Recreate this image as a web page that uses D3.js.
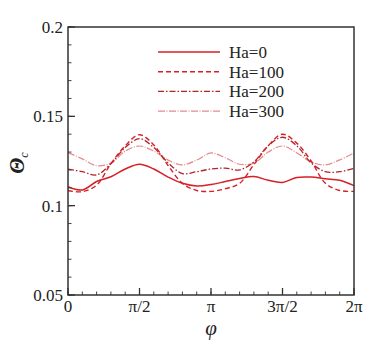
<!DOCTYPE html>
<html>
<head>
<script src="https://d3js.org/d3.v7.min.js"></script>
<style>
  body { margin: 0; background: #fff; }
  #chart svg, #chart svg text { font-family: "Liberation Serif", "DejaVu Serif", "Times New Roman", Times, serif; }
</style>
</head>
<body>
<div id="chart"></div>
<script>
// phi in units of pi
var phi = [0, 0.1, 0.2, 0.3, 0.4, 0.5, 0.6, 0.7, 0.8, 0.9, 1.0,
           1.1, 1.2, 1.3, 1.4, 1.5, 1.6, 1.7, 1.8, 1.9, 2.0];
var ha0   = [0.1106, 0.1088, 0.1135, 0.1162, 0.1205, 0.1232, 0.1205, 0.1160, 0.1125, 0.1110, 0.1118,
             0.1135, 0.1152, 0.1163, 0.1142, 0.1130, 0.1158, 0.1160, 0.1150, 0.1142, 0.1112];
var ha100 = [0.1085, 0.1078, 0.1115, 0.1235, 0.1335, 0.1397, 0.1340, 0.1225, 0.1125, 0.1085, 0.1080,
             0.1095, 0.1125, 0.1230, 0.1335, 0.1400, 0.1350, 0.1250, 0.1125, 0.1085, 0.1080];
var ha200 = [0.1204, 0.1190, 0.1172, 0.1235, 0.1325, 0.1375, 0.1325, 0.1240, 0.1180, 0.1190, 0.1205,
             0.1210, 0.1200, 0.1245, 0.1335, 0.1383, 0.1335, 0.1240, 0.1190, 0.1190, 0.1208];
var ha300 = [0.1297, 0.1262, 0.1224, 0.1238, 0.1305, 0.1334, 0.1305, 0.1255, 0.1228, 0.1255, 0.1295,
             0.1268, 0.1232, 0.1238, 0.1300, 0.1334, 0.1295, 0.1245, 0.1228, 0.1256, 0.1295];
var seriesNames = ["Ha=0", "Ha=100", "Ha=200", "Ha=300"];
var xTicks = [0, 0.5, 1, 1.5, 2];
var xTickLabels = ["0", "\u03c0/2", "\u03c0", "3\u03c0/2", "2\u03c0"];
var yTicks = [0.05, 0.1, 0.15, 0.2];
var yTickLabels = ["0.05", "0.1", "0.15", "0.2"];

var W = 390, H = 349;
var m = { left: 68, right: 36, top: 27, bottom: 54 };
var iw = W - m.left - m.right, ih = H - m.top - m.bottom;

var svg = d3.select("#chart").append("svg").attr("width", W).attr("height", H);
var g = svg.append("g").attr("transform", "translate(" + m.left + "," + m.top + ")");

var x = d3.scaleLinear().domain([0, 2]).range([0, iw]);
var y = d3.scaleLinear().domain([0.05, 0.2]).range([ih, 0]);

var styles = [
  { data: ha0,   color: "#d71f26", width: 1.5, dash: null },
  { data: ha100, color: "#d42027", width: 1.4, dash: "5,3" },
  { data: ha200, color: "#b3232a", width: 1.3, dash: "6,2,1.5,2" },
  { data: ha300, color: "#e38a8c", width: 1.2, dash: "7,1.5,1,1.5" }
];

var line = d3.line()
  .x(function(d, i) { return x(phi[i]); })
  .y(function(d) { return y(d); })
  .curve(d3.curveCatmullRom);

// curves (draw light ones first)
[3, 2, 1, 0].forEach(function(k) {
  var s = styles[k];
  g.append("path")
    .attr("d", line(s.data))
    .attr("fill", "none")
    .attr("stroke", s.color)
    .attr("stroke-width", s.width)
    .attr("stroke-dasharray", s.dash);
});

// minor ticks
var xMinor = d3.range(0, 2.0001, 0.1);
var yMinor = d3.range(0.05, 0.2001, 0.01);
g.selectAll(".xminor").data(xMinor).enter().append("line")
  .attr("x1", function(d) { return x(d); }).attr("x2", function(d) { return x(d); })
  .attr("y1", ih).attr("y2", ih - 3.5)
  .attr("stroke", "#444").attr("stroke-width", 1);
g.selectAll(".yminor").data(yMinor).enter().append("line")
  .attr("y1", function(d) { return y(d); }).attr("y2", function(d) { return y(d); })
  .attr("x1", 0).attr("x2", 3.5)
  .attr("stroke", "#444").attr("stroke-width", 1);

// major ticks
g.selectAll(".xmajor").data(xTicks).enter().append("line")
  .attr("x1", function(d) { return x(d); }).attr("x2", function(d) { return x(d); })
  .attr("y1", ih).attr("y2", ih - 7)
  .attr("stroke", "#333").attr("stroke-width", 1.3);
g.selectAll(".ymajor").data(yTicks).enter().append("line")
  .attr("y1", function(d) { return y(d); }).attr("y2", function(d) { return y(d); })
  .attr("x1", 0).attr("x2", 7)
  .attr("stroke", "#333").attr("stroke-width", 1.3);

// frame
g.append("rect").attr("width", iw).attr("height", ih)
  .attr("fill", "none").attr("stroke", "#333").attr("stroke-width", 1.5);

// tick labels
g.selectAll(".xlab").data(xTicks).enter().append("text")
  .attr("x", function(d) { return x(d); })
  .attr("y", ih + 17)
  .attr("text-anchor", "middle")
  .attr("font-size", 17).attr("fill", "#222")
  .text(function(d, i) { return xTickLabels[i]; });
g.selectAll(".ylab").data(yTicks).enter().append("text")
  .attr("x", -5)
  .attr("y", function(d) { return y(d); })
  .attr("dy", "0.35em")
  .attr("text-anchor", "end")
  .attr("font-size", 17).attr("fill", "#222")
  .text(function(d, i) { return yTickLabels[i]; });

// axis titles
svg.append("text")
  .attr("x", m.left + iw / 2).attr("y", H - 14)
  .attr("text-anchor", "middle")
  .attr("font-size", 21).attr("font-style", "italic").attr("fill", "#222")
  .text("\u03c6");
var yt = svg.append("text")
  .attr("transform", "translate(24,163) rotate(-90)")
  .attr("text-anchor", "middle").attr("fill", "#222")
  .attr("font-size", 21).attr("font-style", "italic").attr("font-weight", "bold");
yt.append("tspan").text("\u0398");
yt.append("tspan").attr("font-size", 12).attr("font-weight", "normal").attr("dy", 4).text("c");

// legend
var leg = svg.append("g").attr("transform", "translate(158,52)");
styles.forEach(function(s, i) {
  var row = leg.append("g").attr("transform", "translate(0," + (i * 19.7) + ")");
  row.append("line").attr("x1", 0).attr("x2", 62).attr("y1", 0).attr("y2", 0)
    .attr("stroke", s.color).attr("stroke-width", s.width).attr("stroke-dasharray", s.dash);
  row.append("text").attr("x", 71).attr("y", 0).attr("dy", "0.35em")
    .attr("font-size", 17).attr("fill", "#222").text(seriesNames[i]);
});
</script>
</body>
</html>
